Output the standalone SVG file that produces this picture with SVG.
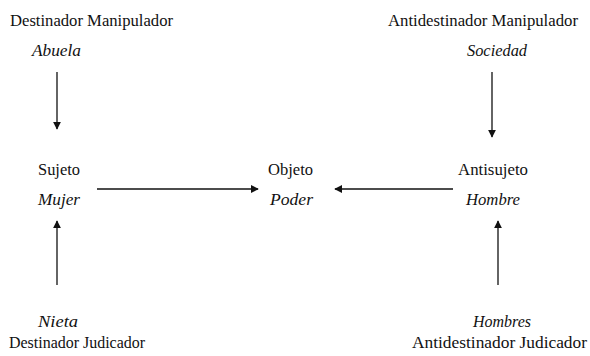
<svg xmlns="http://www.w3.org/2000/svg" width="590" height="356" viewBox="0 0 590 356" font-family="'Liberation Serif', 'DejaVu Serif', serif">
<style>
text{font-family:'Liberation Serif','DejaVu Serif','Times New Roman',serif;font-size:16px;fill:#111}
.i{font-style:italic}
.c{stroke:#111;stroke-width:1.3;fill:none}
</style>
<defs>
<marker id="ah" viewBox="0 0 10 10" refX="9" refY="5" markerWidth="8" markerHeight="8" markerUnits="userSpaceOnUse" orient="auto">
<path d="M0,0 L10,5 L0,10 z" fill="#111"/>
</marker>
</defs>
<rect width="590" height="356" fill="#fff"/>
<g id="destinador-manipulador">
<text x="10" y="26" textLength="163" lengthAdjust="spacingAndGlyphs">Destinador  Manipulador</text>
<text class="i" x="32" y="56" textLength="49" lengthAdjust="spacingAndGlyphs">Abuela</text>
</g>
<g id="antidestinador-manipulador">
<text x="388" y="26" textLength="190" lengthAdjust="spacingAndGlyphs">Antidestinador Manipulador</text>
<text class="i" x="467" y="56" textLength="60" lengthAdjust="spacingAndGlyphs">Sociedad</text>
</g>
<g id="sujeto">
<text x="38" y="175" textLength="42" lengthAdjust="spacingAndGlyphs">Sujeto</text>
<text class="i" x="38" y="205" textLength="42" lengthAdjust="spacingAndGlyphs">Mujer</text>
</g>
<g id="objeto">
<text x="268" y="175" textLength="45" lengthAdjust="spacingAndGlyphs">Objeto</text>
<text class="i" x="270" y="205" textLength="43" lengthAdjust="spacingAndGlyphs">Poder</text>
</g>
<g id="antisujeto">
<text x="458" y="175" textLength="70" lengthAdjust="spacingAndGlyphs">Antisujeto</text>
<text class="i" x="466" y="205" textLength="54" lengthAdjust="spacingAndGlyphs">Hombre</text>
</g>
<g id="destinador-judicador">
<text class="i" x="38" y="327" textLength="40" lengthAdjust="spacingAndGlyphs">Nieta</text>
<text x="9" y="348" textLength="136" lengthAdjust="spacingAndGlyphs">Destinador  Judicador</text>
</g>
<g id="antidestinador-judicador">
<text class="i" x="473" y="327" textLength="58" lengthAdjust="spacingAndGlyphs">Hombres</text>
<text x="412" y="348" textLength="175" lengthAdjust="spacingAndGlyphs">Antidestinador Judicador</text>
</g>
<g id="connectors">
<line class="c" x1="57" y1="72" x2="57" y2="129" marker-end="url(#ah)"/>
<line class="c" x1="492" y1="72" x2="492" y2="137" marker-end="url(#ah)"/>
<line class="c" x1="97" y1="189" x2="258" y2="189" marker-end="url(#ah)"/>
<line class="c" x1="453" y1="189" x2="335" y2="189" marker-end="url(#ah)"/>
<line class="c" x1="57" y1="285" x2="57" y2="221" marker-end="url(#ah)"/>
<line class="c" x1="498" y1="285" x2="498" y2="221" marker-end="url(#ah)"/>
</g>
</svg>
